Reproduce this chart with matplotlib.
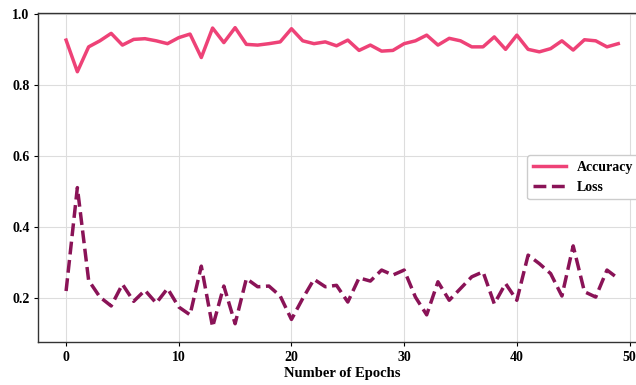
import numpy as np
import matplotlib
matplotlib.use("Agg")
import matplotlib.pyplot as plt

epochs = np.arange(50)
accuracy = [0.926, 0.837, 0.907, 0.924, 0.945, 0.912, 0.928, 0.930, 0.924, 0.916,
            0.933, 0.943, 0.877, 0.960, 0.919, 0.961, 0.914, 0.912, 0.916, 0.921,
            0.958, 0.924, 0.916, 0.921, 0.910, 0.926, 0.897, 0.912, 0.895, 0.897,
            0.916, 0.924, 0.940, 0.912, 0.931, 0.924, 0.907, 0.907, 0.935, 0.900,
            0.940, 0.900, 0.893, 0.902, 0.924, 0.898, 0.927, 0.924, 0.907, 0.916]
loss = [0.220, 0.511, 0.250, 0.203, 0.178, 0.239, 0.191, 0.222, 0.186, 0.227,
        0.175, 0.153, 0.290, 0.119, 0.234, 0.128, 0.255, 0.232, 0.234, 0.206,
        0.140, 0.199, 0.253, 0.232, 0.236, 0.189, 0.257, 0.248, 0.279, 0.265,
        0.279, 0.203, 0.153, 0.246, 0.194, 0.227, 0.260, 0.274, 0.184, 0.241,
        0.194, 0.321, 0.297, 0.269, 0.206, 0.347, 0.218, 0.203, 0.279, 0.255]

plt.rcParams['font.family'] = ['Liberation Serif', 'DejaVu Serif']
plt.rcParams['font.weight'] = 'bold'

fig = plt.figure(figsize=(6.36, 3.85), dpi=100)
ax = fig.add_axes([0.0605, 0.112, 0.955, 0.855])

ax.plot(epochs, accuracy, color='#EE4277', lw=2.5, label='Accuracy')
ax.plot(epochs, loss, color='#8A1357', lw=2.5, ls='--', label='Loss')

ax.grid(color='#dddddd', lw=0.8)
ax.set_axisbelow(True)
ax.spines['right'].set_visible(False)
for s in ['left', 'bottom', 'top']:
    ax.spines[s].set_color('#333333')
    ax.spines[s].set_linewidth(1.0)

ax.set_xticks([0, 10, 20, 30, 40, 50])
ax.set_yticks([0.2, 0.4, 0.6, 0.8, 1.0])
ax.tick_params(labelsize=10, length=3, width=0.8)
for lab in ax.get_xticklabels() + ax.get_yticklabels():
    lab.set_fontweight('bold')
ax.set_xlabel('Number of Epochs', fontsize=10.5, fontweight='bold', labelpad=2)

leg = ax.legend(loc='center right', prop={'weight': 'bold', 'size': 10},
                frameon=True, fancybox=True, framealpha=1, handlelength=2.4)
leg.get_frame().set_edgecolor('#cccccc')

fig.savefig('out.png', dpi=100)
